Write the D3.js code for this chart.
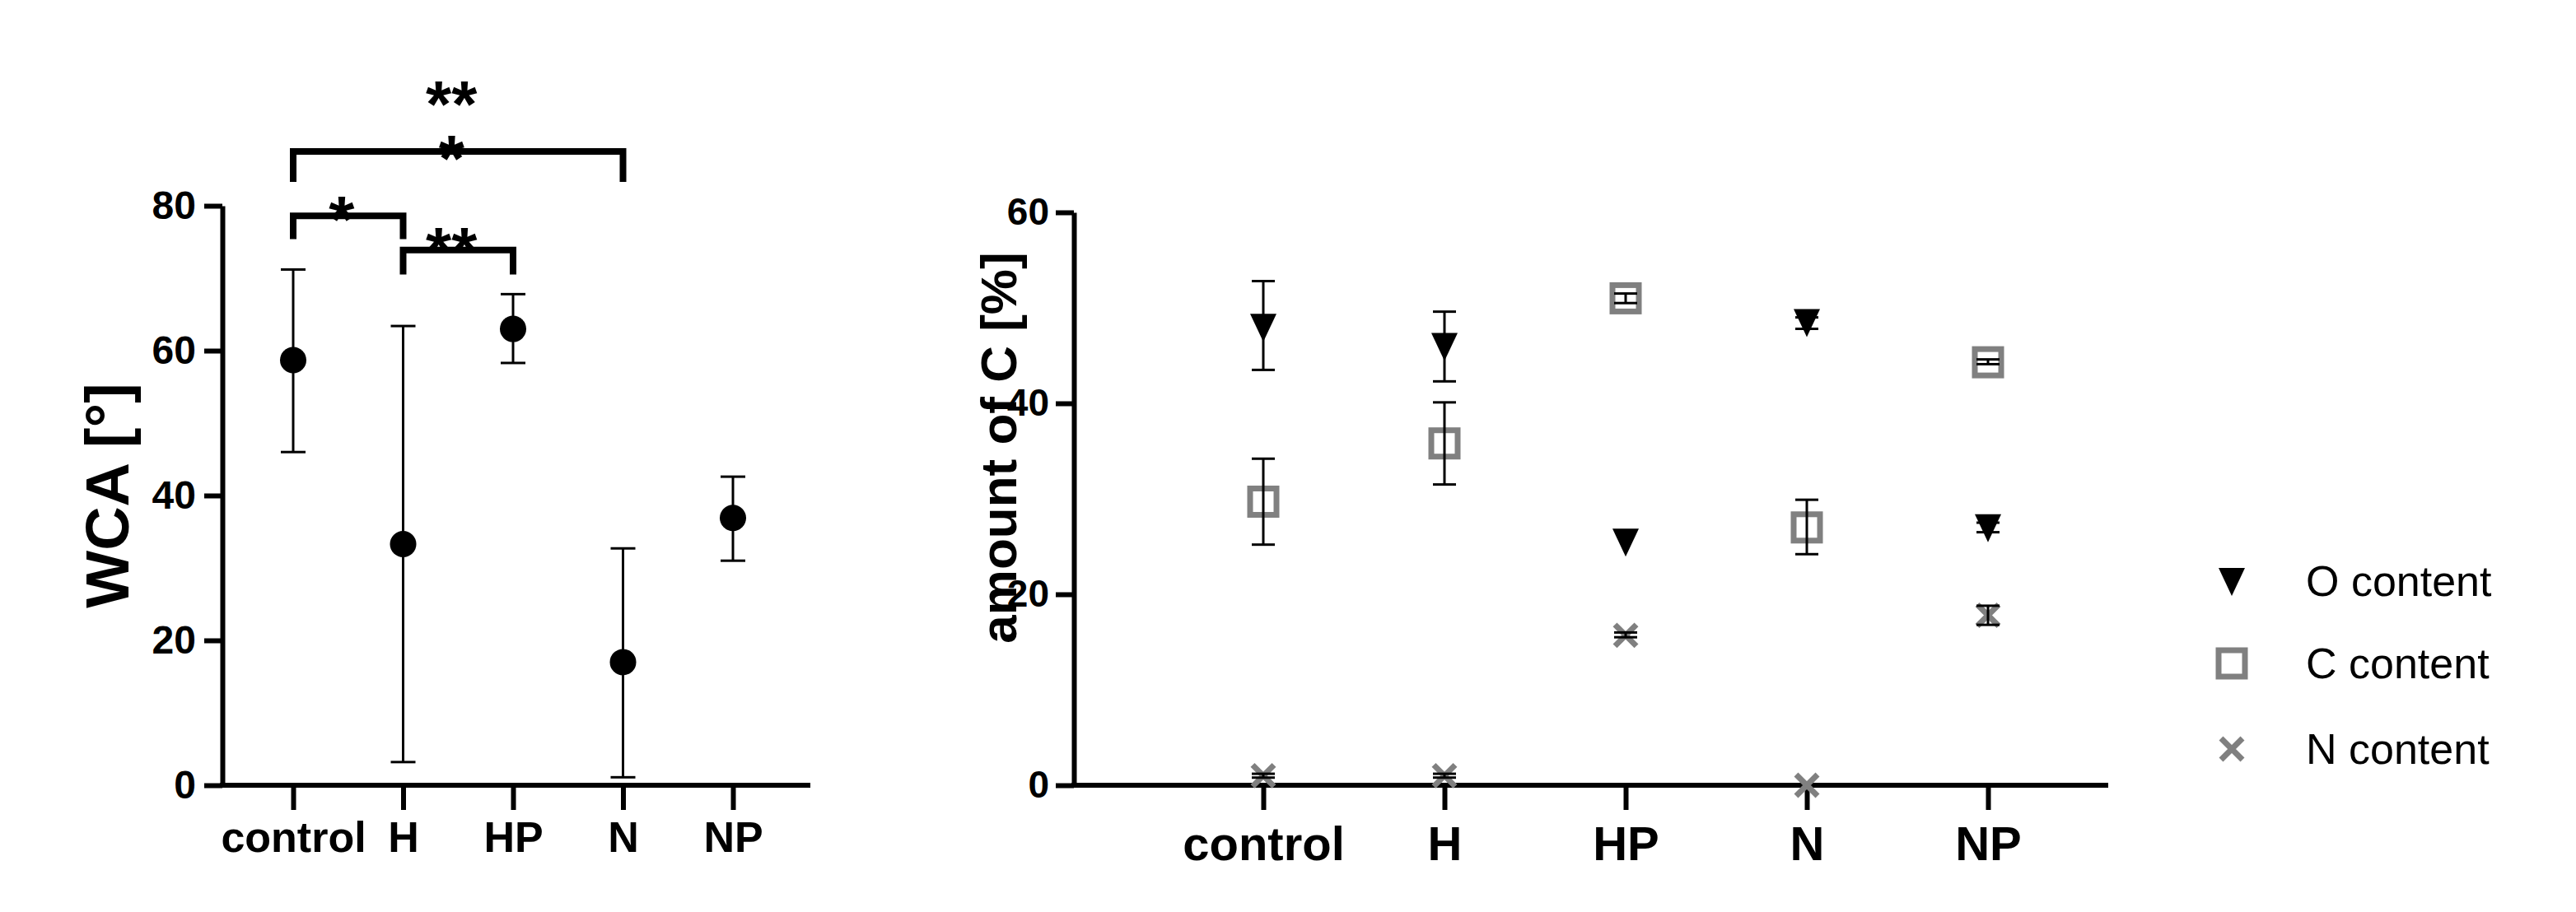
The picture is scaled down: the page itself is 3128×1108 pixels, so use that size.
<!DOCTYPE html><html><head><script src="https://cdn.jsdelivr.net/npm/d3@7"></script>
<style>body{margin:0;background:#fff}text{font-family:Arial,"Liberation Sans",sans-serif}</style></head><body>
<svg id="c" width="3128" height="1108"></svg>
<script>
const groups=["control","H","HP","N","NP"];
const wcaMean=[58.7,33.3,63.0,17.0,36.9];
const wcaLow=[46.0,3.2,58.3,1.1,31.0];
const wcaHigh=[71.2,63.4,67.8,32.7,42.6];
const wcaTicks=[0,20,40,60,80];
const oMean=[48.0,46.0,25.5,48.5,27.0], oLow=[43.5,42.3,25.5,47.8,26.5], oHigh=[52.8,49.6,25.5,49.0,27.5];
const cMean=[29.7,35.8,51.0,27.0,44.3], cLow=[25.2,31.5,50.5,24.2,44.1], cHigh=[34.2,40.1,51.5,29.9,44.6];
const nMean=[1.0,1.0,15.7,0.0,17.8], nLow=[0.8,0.8,15.5,0,16.8], nHigh=[1.2,1.2,16.0,0,18.8];
const compTicks=[0,20,40,60];
const sig=[{a:"control",b:"H",y:78.6,leg:3.2,t:"*",off:-8},{a:"H",b:"HP",y:73.9,leg:3.4,t:"**",off:-12},{a:"control",b:"N",y:87.5,leg:4.2,t:"*",off:-4},{a:"control",b:"N",y:87.5,leg:0,t:"**",off:-70}];

const svg=d3.select("#c");
const gray="#808080";
const x1=d3.scalePoint().domain(groups).range([356,890]);
const y1=d3.scaleLinear().domain([0,80]).range([954,250]);
const L=svg.append("g");
function axisStyle(g,fs){g.selectAll("path,line").attr("stroke","#000").attr("stroke-width",6);g.selectAll("text").attr("font-size",fs).attr("font-weight","bold").attr("fill","#000");}
L.append("g").attr("transform","translate(270,0)").call(d3.axisLeft(y1).tickValues(wcaTicks).tickSize(22).tickSizeOuter(0).tickPadding(10)).call(g=>axisStyle(g,48));
L.append("g").attr("transform","translate(0,954)").call(d3.axisBottom(x1).tickSize(30).tickSizeOuter(0).tickPadding(14)).call(g=>{axisStyle(g,52);g.select(".domain").attr("d","M267,0H984");});
L.append("text").attr("transform","translate(130,602) rotate(-90)").attr("text-anchor","middle").attr("dy","0.35em").attr("font-size",74).attr("font-weight","bold").text("WCA [°]");
groups.forEach((g,i)=>{
  const x=x1(g);
  L.append("line").attr("x1",x).attr("x2",x).attr("y1",y1(wcaLow[i])).attr("y2",y1(wcaHigh[i])).attr("stroke","#000").attr("stroke-width",3);
  [wcaLow[i],wcaHigh[i]].forEach(v=>L.append("line").attr("x1",x-15).attr("x2",x+15).attr("y1",y1(v)).attr("y2",y1(v)).attr("stroke","#000").attr("stroke-width",3));
  L.append("circle").attr("cx",x).attr("cy",y1(wcaMean[i])).attr("r",16).attr("fill","#000");
});
sig.forEach(s=>{
  const xa=x1(s.a),xb=x1(s.b);
  if(s.leg>0)L.append("path").attr("d",`M${xa},${y1(s.y-s.leg)}V${y1(s.y)}H${xb}V${y1(s.y-s.leg)}`).attr("fill","none").attr("stroke","#000").attr("stroke-width",8);
  L.append("text").attr("x",(xa+xb)/2-8).attr("y",y1(s.y)+s.off+40).attr("text-anchor","middle").attr("font-size",80).attr("font-weight","bold").text(s.t);
});
const x2=d3.scalePoint().domain(groups).range([1534,2414]);
const y2=d3.scaleLinear().domain([0,60]).range([954,258]);
const R=svg.append("g");
R.append("g").attr("transform","translate(1304,0)").call(d3.axisLeft(y2).tickValues(compTicks).tickSize(22).tickSizeOuter(0).tickPadding(8)).call(g=>axisStyle(g,46));
R.append("g").attr("transform","translate(0,954)").call(d3.axisBottom(x2).tickSize(30).tickSizeOuter(0).tickPadding(20)).call(g=>{axisStyle(g,58);g.select(".domain").attr("d","M1301,0H2560");});
R.append("text").attr("transform","translate(1212,544) rotate(-90)").attr("text-anchor","middle").attr("dy","0.35em").attr("font-size",62).attr("font-weight","bold").text("amount of C [%]");
function err(x,lo,hi){
  if(hi-lo<0.01)return;
  R.append("line").attr("x1",x).attr("x2",x).attr("y1",y2(lo)).attr("y2",y2(hi)).attr("stroke","#000").attr("stroke-width",3);
  [lo,hi].forEach(v=>R.append("line").attr("x1",x-14).attr("x2",x+14).attr("y1",y2(v)).attr("y2",y2(v)).attr("stroke","#000").attr("stroke-width",3));
}
const tri=(x,y)=>`M${x-16},${y-16}L${x+16},${y-16}L${x},${y+18}Z`;
function sq(g,x,y){g.append("rect").attr("x",x-16).attr("y",y-16).attr("width",32).attr("height",32).attr("fill","none").attr("stroke",gray).attr("stroke-width",7);}
function cross(g,x,y){g.append("path").attr("d",`M${x-13},${y-13}L${x+13},${y+13}M${x-13},${y+13}L${x+13},${y-13}`).attr("stroke",gray).attr("stroke-width",7);}
groups.forEach((g,i)=>{
  const x=x2(g);
  err(x,oLow[i],oHigh[i]);R.append("path").attr("d",tri(x,y2(oMean[i]))).attr("fill","#000");
  sq(R,x,y2(cMean[i]));err(x,cLow[i],cHigh[i]);
  cross(R,x,y2(nMean[i]));err(x,nLow[i],nHigh[i]);
});
const leg=[["O content",706],["C content",806],["N content",910]];
leg.forEach(([t,y],k)=>{
  if(k==0)R.append("path").attr("d",tri(2710,y)).attr("fill","#000");
  if(k==1)sq(R,2710,y);
  if(k==2)cross(R,2710,y);
  R.append("text").attr("x",2800).attr("y",y).attr("dy","0.35em").attr("font-size",52).text(t);
});
</script></body></html>
